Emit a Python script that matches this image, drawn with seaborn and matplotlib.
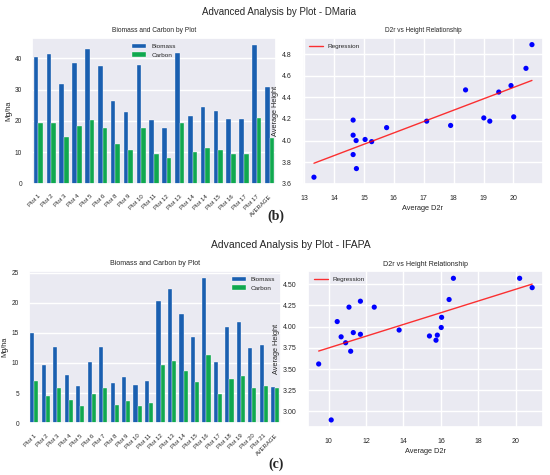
import pandas as pd
import matplotlib
matplotlib.use('Agg')
import matplotlib.pyplot as plt
import numpy as np
import seaborn as sns

# ---- DMaria data ----
dm_plots = ['Plot 1', 'Plot 2', 'Plot 3', 'Plot 4', 'Plot 5', 'Plot 6', 'Plot 8', 'Plot 9',
            'Plot 10', 'Plot 11', 'Plot 12', 'Plot 13', 'Plot 14', 'Plot 14', 'Plot 15',
            'Plot 16', 'Plot 17', 'Plot 17', 'AVERAGE']
dm_biomass = [40.5, 41.4, 31.8, 38.6, 42.9, 37.4, 26.4, 22.9, 37.7, 20.4, 17.8, 41.5,
              21.6, 24.5, 23.2, 20.7, 20.7, 44.2, 30.7]
dm_carbon = [19.2, 19.5, 15.0, 18.4, 20.3, 17.8, 12.6, 10.7, 17.8, 9.5, 8.3, 19.5,
             10.1, 11.3, 10.9, 9.5, 9.5, 20.9, 14.5]
dm_d2r = [13.33, 14.64, 14.64, 14.74, 14.64, 14.75, 15.04, 15.26, 15.76, 17.10, 17.90,
          18.40, 19.01, 19.21, 19.51, 19.92, 20.01, 20.42, 20.62]
dm_height = [3.66, 4.19, 4.05, 4.00, 3.87, 3.74, 4.01, 3.99, 4.12, 4.18, 4.14,
             4.47, 4.21, 4.18, 4.45, 4.51, 4.22, 4.67, 4.89]

# ---- IFAPA data ----
if_plots = ['Plot %d' % i for i in range(1, 22)] + ['AVERAGE']
if_biomass = [14.9, 9.7, 12.7, 8.0, 6.1, 10.2, 12.7, 6.7, 7.7, 6.4, 7.0, 20.3, 22.2,
              18.2, 14.3, 24.1, 10.1, 15.9, 16.8, 12.5, 12.9, 6.0]
if_carbon = [7.0, 4.6, 5.9, 3.8, 2.9, 4.8, 5.9, 3.0, 3.65, 2.9, 3.3, 9.6, 10.4, 8.6,
             6.8, 11.3, 4.8, 7.4, 7.9, 5.9, 6.1, 5.9]
if_d2r = [9.47, 10.14, 10.46, 10.67, 10.91, 11.09, 11.18, 11.32, 11.70, 11.70, 12.44,
          13.77, 15.39, 15.74, 15.81, 16.02, 16.04, 16.44, 16.67, 20.21, 20.88]
if_height = [3.56, 2.90, 4.06, 3.88, 3.81, 4.23, 3.71, 3.93, 4.30, 3.91, 4.23,
             3.96, 3.89, 3.84, 3.90, 3.99, 4.11, 4.32, 4.57, 4.57, 4.46]

sns.set_theme(style='darkgrid')
plt.rcParams['font.family'] = ['Liberation Sans', 'DejaVu Sans']

colors = {'Biomass': '#1a5fb0', 'Carbon': '#10a84f'}


def bars(ax, labels, biomass, carbon, legend_loc, tsize):
    n = len(labels)
    df = pd.DataFrame({'pos': list(range(n)) * 2,
                       'value': biomass + carbon,
                       'type': ['Biomass'] * n + ['Carbon'] * n})
    sns.barplot(data=df, x='pos', y='value', hue='type', palette=colors,
                errorbar=None, width=0.72, saturation=1, linewidth=0.25,
                edgecolor='white', ax=ax)
    ax.set_xticks(range(n))
    ax.set_xticklabels(labels, rotation=45, ha='right', fontsize=4.3,
                       rotation_mode='anchor')
    ax.tick_params(axis='y', labelsize=4.7, pad=1)
    ax.tick_params(axis='x', pad=1)
    ax.set_xlabel('')
    ax.set_ylabel('Mg/ha', fontsize=5.3, labelpad=2)
    ax.set_title('Biomass and Carbon by Plot', fontsize=tsize, pad=4)
    ax.legend(loc=legend_loc, fontsize=4.6, frameon=False, handlelength=2.2)


def scatter(ax, x, y, tsize):
    sns.regplot(x=x, y=y, scatter=False, ci=None, color='red', ax=ax,
                line_kws={'lw': 1, 'alpha': 0.8}, label='Regression')
    sns.scatterplot(x=x, y=y, color='blue', s=14, edgecolor='none', ax=ax)
    ax.tick_params(labelsize=5, pad=2)
    ax.set_xlabel('Average D2r', fontsize=5.3, labelpad=2)
    ax.set_ylabel('Average Height', fontsize=5.3, labelpad=2)
    ax.set_title('D2r vs Height Relationship', fontsize=tsize, pad=4)
    ax.legend(loc='upper left', fontsize=4.6, frameon=False, handlelength=2.2)


fig = plt.figure(figsize=(5.5, 4.75), dpi=100)
fig.patch.set_facecolor('white')

ax1 = fig.add_axes([0.058, 0.613, 0.444, 0.307])
ax2 = fig.add_axes([0.551, 0.613, 0.436, 0.307])
ax3 = fig.add_axes([0.052, 0.109, 0.459, 0.321])
ax4 = fig.add_axes([0.560, 0.101, 0.427, 0.328])

bars(ax1, dm_plots, dm_biomass, dm_carbon, 'upper center', 4.8)
scatter(ax2, dm_d2r, dm_height, 4.7)
bars(ax3, if_plots, if_biomass, if_carbon, 'upper right', 5.1)
scatter(ax4, if_d2r, if_height, 5.1)

fig.text(0.507, 0.975, 'Advanced Analysis by Plot - DMaria', ha='center', va='center',
         fontsize=7)
fig.text(0.529, 0.484, 'Advanced Analysis by Plot - IFAPA', ha='center', va='center',
         fontsize=7.5)
fig.text(0.502, 0.545, '(b)', ha='center', va='center', fontsize=10,
         family=['Liberation Serif'], weight='bold')
fig.text(0.502, 0.022, '(c)', ha='center', va='center', fontsize=10,
         family=['Liberation Serif'], weight='bold')

fig.savefig('out.png', dpi=100)
